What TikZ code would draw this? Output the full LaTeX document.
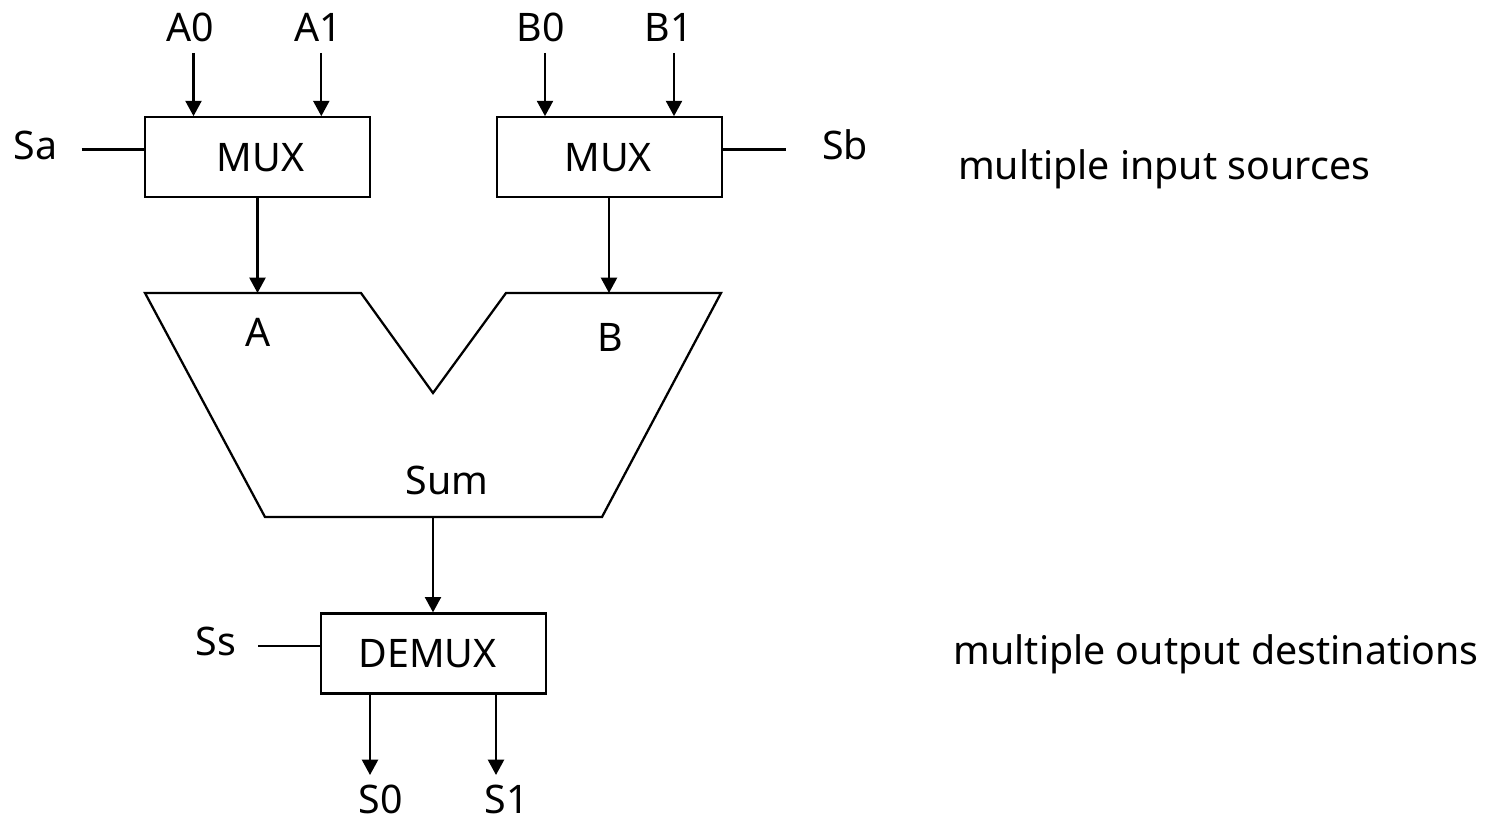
\documentclass[tikz,border=0pt]{standalone}
\usepackage{fontspec}
\setmainfont{Noto Sans}
\usetikzlibrary{arrows.meta,calc}
\tikzset{
 lbl/.style={inner sep=0pt,font=\fontsize{29.5}{32}\selectfont},
 box/.style={draw,line width=1.7pt,inner sep=0pt,font=\fontsize{29.5}{32}\selectfont},
 wire/.style={line width=1.7pt},
 arr/.style={wire,-{Triangle[length=11.5pt,width=12pt]}},
}
\begin{document}
\begin{tikzpicture}[x=0.75pt,y=-0.75pt]
\useasboundingbox (0,0) rectangle (1485,817);
\node[box,minimum width=168.75pt,minimum height=60pt] (muxa) at (257.5,157.3) {\kern4.5pt MUX};
\node[box,minimum width=168.75pt,minimum height=60pt] (muxb) at (609.5,157.3) {MUX\kern2pt\relax};
\node[box,minimum width=168.75pt,minimum height=60pt] (demux) at (433.5,653.5) {DEMUX\kern9pt\relax};
\node[lbl] (a0) at (190,27) {A0};
\node[lbl] (a1) at (318,27) {A1};
\node[lbl] (b0) at (541,27) {B0};
\node[lbl] (b1) at (669,27) {B1};
\node[lbl] (sa) at (35.5,145) {Sa};
\node[lbl] (sb) at (845,145) {Sb};
\node[lbl] (ss) at (216,641) {Ss};
\node[lbl] (s0) at (381,799) {S0};
\node[lbl] (s1) at (507,799) {S1};
\node[lbl] (la) at (258,332) {A};
\node[lbl] (lb) at (610,337) {B};
\node[lbl] (lsum) at (447,480) {Sum};
\node[lbl] (t1) at (1164,169) {multiple input sources};
\node[lbl] (t2) at (1216,654) {multiple output destinations};
\coordinate (pa) at (257.5,293);
\coordinate (pb) at (609,293);
\coordinate (ps) at (433,517);
\draw[wire,line join=miter] (145,293) -- (pa) -- (361,293) -- (433,393) -- (506,293) -- (pb) -- (721,293) -- (602,517) -- (ps) -- (265,517) -- cycle;
\coordinate (a0e) at (193.5,53);
\coordinate (a1e) at (321.3,53);
\coordinate (b0e) at (545,53);
\coordinate (b1e) at (674,53);
\coordinate (sae) at (81.5,149.5);
\coordinate (sbe) at (786,149.5);
\coordinate (sse) at (258,646);
\coordinate (s0e) at (370,775);
\coordinate (s1e) at (496,775);
\draw[arr] (a0e) -- (a0e |- muxa.north);
\draw[arr] (a1e) -- (a1e |- muxa.north);
\draw[arr] (b0e) -- (b0e |- muxb.north);
\draw[arr] (b1e) -- (b1e |- muxb.north);
\draw[wire] (sae) -- (sae -| muxa.west);
\draw[wire] (sbe -| muxb.east) -- (sbe);
\draw[wire] (sse) -- (sse -| demux.west);
\draw[arr] (muxa.south -| pa) -- (pa);
\draw[arr] (muxb.south -| pb) -- (pb);
\draw[arr] (ps) -- (demux.north -| ps);
\draw[arr] (s0e |- demux.south) -- (s0e);
\draw[arr] (s1e |- demux.south) -- (s1e);
\end{tikzpicture}
\end{document}
